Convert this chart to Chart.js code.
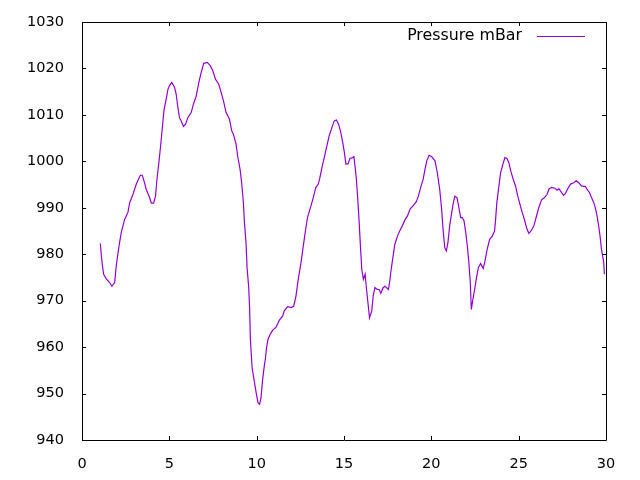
<!DOCTYPE html>
<html>
<head>
<meta charset="utf-8">
<title>Pressure mBar</title>
<script src="https://cdn.jsdelivr.net/npm/chart.js@4.4.1/dist/chart.umd.min.js"></script>
<style>
  html, body { margin: 0; padding: 0; background: #fff; }
  #wrap { width: 640px; height: 480px; }
</style>
</head>
<body>
<div id="wrap"><canvas id="pressure-chart" width="640" height="480"></canvas></div>
<script>
// Values
const seriesLabel = "Pressure mBar";

const days = [
  1.05, 1.10, 1.17, 1.24, 1.39, 1.58, 1.71, 1.87, 1.96, 2.12,
  2.25, 2.44, 2.63, 2.73, 2.92, 3.11, 3.34, 3.45, 3.58, 3.67,
  3.87, 3.97, 4.10, 4.21, 4.29, 4.40, 4.50, 4.59, 4.69, 4.82,
  4.92, 5.01, 5.14, 5.30, 5.39, 5.49, 5.58, 5.68, 5.81, 5.93,
  6.06, 6.25, 6.38, 6.54, 6.69, 6.82, 6.97, 7.17, 7.34, 7.49,
  7.64, 7.83, 7.97, 8.10, 8.25, 8.44, 8.57, 8.67, 8.82, 8.91,
  9.05, 9.14, 9.24, 9.30, 9.39, 9.45, 9.54, 9.60, 9.64, 9.74,
  9.87, 9.97, 10.08, 10.17, 10.25, 10.34, 10.44, 10.50, 10.57, 10.65,
  10.77, 10.91, 11.11, 11.30, 11.49, 11.58, 11.77, 11.97, 12.12, 12.25,
  12.38, 12.54, 12.67, 12.78, 12.91, 13.11, 13.24, 13.39, 13.53, 13.62,
  13.74, 13.87, 14.00, 14.15, 14.31, 14.44, 14.57, 14.69, 14.82, 14.91,
  15.01, 15.11, 15.24, 15.34, 15.49, 15.57, 15.64, 15.71, 15.79, 15.87,
  15.94, 16.02, 16.11, 16.21, 16.29, 16.37, 16.46, 16.59, 16.67, 16.77,
  16.91, 17.01, 17.11, 17.24, 17.35, 17.54, 17.62, 17.70, 17.81, 17.91,
  18.06, 18.19, 18.34, 18.50, 18.63, 18.78, 18.95, 19.14, 19.26, 19.39,
  19.53, 19.64, 19.74, 19.87, 20.02, 20.21, 20.34, 20.48, 20.59, 20.67,
  20.77, 20.86, 20.95, 21.05, 21.17, 21.26, 21.35, 21.47, 21.58, 21.68,
  21.77, 21.87, 21.97, 22.06, 22.15, 22.23, 22.29, 22.38, 22.48, 22.57,
  22.69, 22.82, 22.97, 23.07, 23.20, 23.34, 23.49, 23.62, 23.68, 23.75,
  23.87, 23.97, 24.10, 24.21, 24.33, 24.44, 24.55, 24.69, 24.82, 24.95,
  25.07, 25.20, 25.35, 25.45, 25.58, 25.71, 25.87, 26.00, 26.15, 26.31,
  26.48, 26.63, 26.73, 26.88, 27.07, 27.20, 27.30, 27.45, 27.57, 27.68,
  27.81, 27.97, 28.15, 28.29, 28.44, 28.59, 28.73, 28.82, 28.91, 29.05,
  29.17, 29.30, 29.39, 29.49, 29.58, 29.66, 29.74, 29.81, 29.87, 29.91
];

const pressure = [
  982.3, 980.0, 977.5, 975.7, 974.7, 973.9, 973.1, 973.9, 977.5, 981.8,
  984.7, 987.5, 989.0, 991.1, 992.9, 995.1, 997.0, 997.0, 995.4, 994.0,
  992.2, 991.0, 991.0, 992.5, 996.1, 999.7, 1003.3, 1006.9, 1010.9, 1013.4,
  1015.5, 1016.3, 1017.0, 1015.9, 1014.5, 1011.6, 1009.4, 1008.7, 1007.5, 1008.0,
  1009.4, 1010.5, 1012.3, 1014.1, 1017.0, 1019.1, 1021.1, 1021.3, 1020.6, 1019.5,
  1017.7, 1016.6, 1014.8, 1013.0, 1010.5, 1009.1, 1006.6, 1005.8, 1003.7, 1001.2,
  998.3, 995.4, 991.1, 986.8, 982.5, 977.1, 973.1, 968.1, 961.7, 955.5,
  952.5, 950.2, 948.0, 947.7, 949.1, 953.0, 956.0, 957.5, 960.0, 961.7,
  962.7, 963.6, 964.3, 965.8, 966.7, 967.8, 968.7, 968.5, 968.8, 971.0,
  974.6, 978.2, 981.8, 984.7, 987.9, 990.4, 992.2, 994.4, 995.1, 996.5,
  998.7, 1000.8, 1003.0, 1005.5, 1007.3, 1008.7, 1008.9, 1008.0, 1006.2, 1004.4,
  1002.2, 999.4, 999.5, 1000.6, 1000.8, 1001.0, 998.7, 996.1, 991.8, 986.8,
  981.8, 976.7, 974.6, 975.7, 972.4, 969.6, 966.3, 967.8, 971.0, 972.8,
  972.4, 972.4, 971.6, 972.8, 973.1, 972.4, 974.2, 976.7, 979.6, 982.1,
  983.9, 985.0, 986.1, 987.5, 988.2, 989.7, 990.4, 991.3, 992.5, 994.4,
  996.1, 998.3, 1000.1, 1001.3, 1001.0, 1000.1, 997.6, 994.0, 989.7, 985.4,
  981.4, 980.7, 982.5, 986.1, 989.0, 991.1, 992.5, 992.2, 990.0, 987.9,
  987.9, 987.2, 984.7, 981.8, 978.2, 973.9, 968.1, 970.3, 972.4, 974.6,
  977.1, 978.0, 976.9, 978.5, 981.1, 983.2, 983.9, 985.0, 987.5, 991.1,
  994.7, 997.6, 999.4, 1000.8, 1000.6, 999.7, 997.9, 996.1, 994.7, 992.5,
  990.8, 989.0, 987.2, 985.7, 984.5, 985.0, 986.1, 987.9, 990.0, 991.7,
  992.2, 992.9, 994.0, 994.4, 994.2, 993.8, 994.1, 993.3, 992.7, 993.1,
  994.1, 995.1, 995.4, 995.8, 995.4, 994.7, 994.6, 994.6, 994.0, 993.3,
  992.2, 991.1, 990.0, 988.2, 986.1, 983.9, 981.1, 979.6, 978.2, 975.7
];

const xTicks = [0, 5, 10, 15, 20, 25, 30];
const yTicks = [940, 950, 960, 970, 980, 990, 1000, 1010, 1020, 1030];

const lineColor = "#9400D3";
const tickFont = { family: "DejaVu Sans", size: 14.5 };

// gnuplot-like frame with inward ticks on all four sides
const framePlugin = {
  id: "frame",
  afterDatasetsDraw(chart) {
    const { ctx, chartArea: a, scales } = chart;
    const tl = 4;
    ctx.save();
    ctx.strokeStyle = "#000";
    ctx.lineWidth = 1;
    ctx.beginPath();
    ctx.rect(Math.round(a.left) + 0.5, Math.round(a.top) + 0.5,
      Math.round(a.right - a.left), Math.round(a.bottom - a.top));
    scales.x.ticks.forEach((t) => {
      const px = Math.round(scales.x.getPixelForValue(t.value)) + 0.5;
      ctx.moveTo(px, a.bottom);
      ctx.lineTo(px, a.bottom - tl);
      ctx.moveTo(px, a.top);
      ctx.lineTo(px, a.top + tl);
    });
    scales.y.ticks.forEach((t) => {
      const py = Math.round(scales.y.getPixelForValue(t.value)) + 0.5;
      ctx.moveTo(a.left, py);
      ctx.lineTo(a.left + tl, py);
      ctx.moveTo(a.right, py);
      ctx.lineTo(a.right - tl, py);
    });
    ctx.stroke();

    // key in the top right corner
    const label = chart.data.datasets[0].label;
    ctx.font = "15.8px 'DejaVu Sans'";
    ctx.fillStyle = "#000";
    ctx.textAlign = "right";
    ctx.textBaseline = "middle";
    ctx.fillText(label, 522, 36);
    ctx.strokeStyle = lineColor;
    ctx.beginPath();
    ctx.moveTo(537, 36.5);
    ctx.lineTo(585, 36.5);
    ctx.stroke();
    ctx.restore();
  },
};

document.addEventListener("DOMContentLoaded", () => {
  const ctx = document.getElementById("pressure-chart").getContext("2d");
  new Chart(ctx, {
    type: "line",
    data: {
      datasets: [
        {
          label: seriesLabel,
          data: days.map((d, i) => ({ x: d, y: pressure[i] })),
          borderColor: lineColor,
          borderWidth: 1.2,
          pointRadius: 0,
          tension: 0,
          fill: false,
        },
      ],
    },
    options: {
      responsive: false,
      animation: false,
      devicePixelRatio: 1,
      layout: { padding: { top: 22, right: 34, left: 0, bottom: 0 } },
      plugins: {
        legend: { display: false },
        tooltip: { enabled: false },
      },
      scales: {
        x: {
          type: "linear",
          min: xTicks[0],
          max: xTicks[xTicks.length - 1],
          afterBuildTicks: (s) => { s.ticks = xTicks.map((v) => ({ value: v })); },
          afterFit: (s) => { s.height = 40; s.paddingLeft = 0; s.paddingRight = 0; },
          grid: { display: false },
          border: { display: false },
          ticks: {
            color: "#000", font: tickFont, padding: 8, maxRotation: 0,
            callback: (v) => String(v),
          },
        },
        y: {
          type: "linear",
          min: yTicks[0],
          max: yTicks[yTicks.length - 1],
          afterBuildTicks: (s) => { s.ticks = yTicks.map((v) => ({ value: v })); },
          afterFit: (s) => { s.width = 82; s.paddingTop = 0; s.paddingBottom = 0; },
          grid: { display: false },
          border: { display: false },
          ticks: {
            color: "#000", font: tickFont, padding: 10,
            callback: (v) => String(v),
          },
        },
      },
    },
    plugins: [framePlugin],
  });
});
</script>
</body>
</html>
